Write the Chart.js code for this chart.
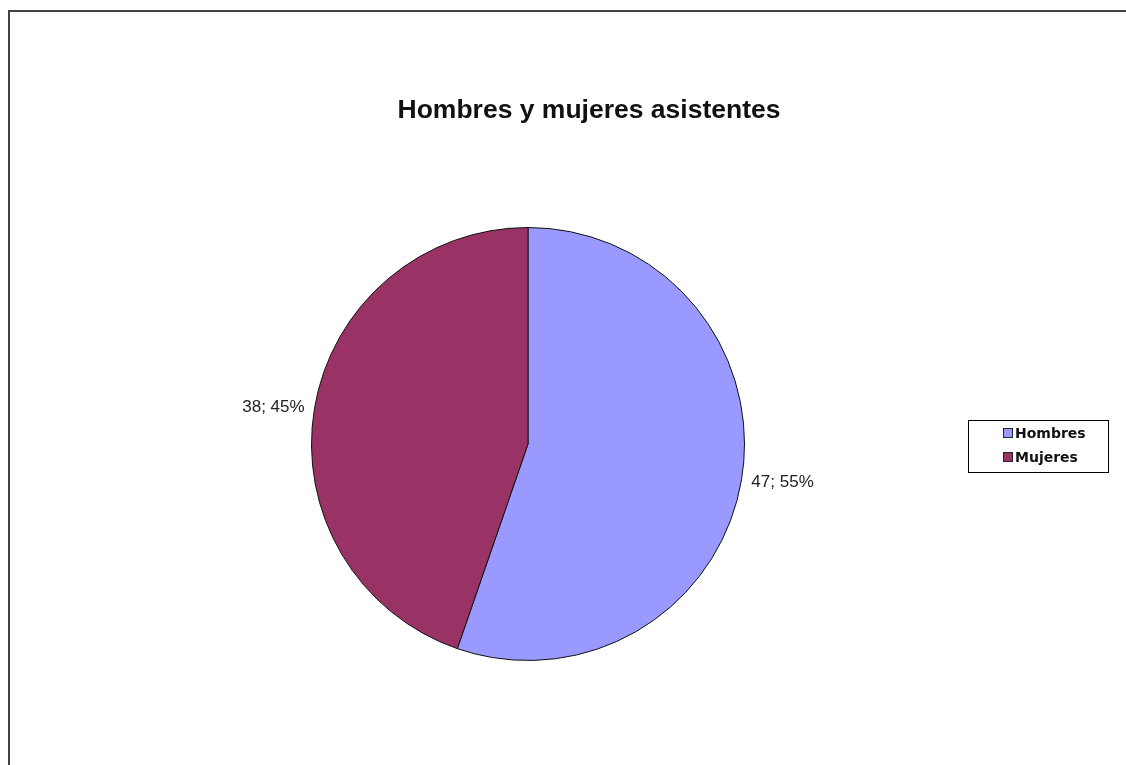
<!DOCTYPE html>
<html>
<head>
<meta charset="utf-8">
<script src="https://cdn.jsdelivr.net/npm/chart.js@4/dist/chart.umd.min.js"></script>
<style>
  html, body { margin: 0; padding: 0; background: #fff; overflow: hidden; }
  #wrap { position: relative; width: 1126px; height: 765px; }
  #frame {
    position: absolute; left: 8px; top: 10px;
    width: 1200px; height: 900px;
    border-left: 2px solid #444; border-top: 2px solid #444;
  }
  canvas { position: absolute; left: 0; top: 0; }
</style>
</head>
<body>
<div id="wrap">
  <div id="frame"></div>
  <canvas id="pie-chart" width="1126" height="765"></canvas>
</div>
<script>
const chartTitle = "Hombres y mujeres asistentes";
const categories = ["Hombres", "Mujeres"];
const values = [47, 38];
const sliceColors = ["#9999FF", "#993366"];

// labels like "47; 55%" outside each slice
const outsideLabels = {
  id: "outsideLabels",
  afterDatasetsDraw(chart) {
    const ctx = chart.ctx;
    const meta = chart.getDatasetMeta(0);
    const total = values.reduce((a, b) => a + b, 0);
    ctx.save();
    ctx.font = "17px 'Liberation Sans', Arial, sans-serif";
    ctx.fillStyle = "#222";
    ctx.textBaseline = "middle";
    meta.data.forEach((arc, i) => {
      const mid = (arc.startAngle + arc.endAngle) / 2;
      const r = arc.outerRadius + 10;
      const x = arc.x + Math.cos(mid) * r;
      const y = arc.y + Math.sin(mid) * r;
      ctx.textAlign = Math.cos(mid) >= 0 ? "left" : "right";
      const pct = Math.round(values[i] / total * 100);
      ctx.fillText(values[i] + "; " + pct + "%", x, y + 1);
    });
    ctx.restore();
  }
};

// title and boxed legend drawn like the original spreadsheet chart
const decorations = {
  id: "decorations",
  afterDraw(chart) {
    const ctx = chart.ctx;
    ctx.save();
    ctx.fillStyle = "#111";
    ctx.font = "bold 26.5px 'Liberation Sans', Arial, sans-serif";
    ctx.textAlign = "center";
    ctx.textBaseline = "middle";
    ctx.fillText(chartTitle, 589, 111);

    const bx = 968, by = 420, bw = 140, bh = 52;
    ctx.strokeStyle = "#000";
    ctx.lineWidth = 1;
    ctx.strokeRect(bx + 0.5, by + 0.5, bw, bh);

    ctx.font = "bold 14px 'DejaVu Sans', Verdana, sans-serif";
    ctx.textAlign = "left";
    categories.forEach((name, i) => {
      const cy = by + 13 + i * 24;
      ctx.fillStyle = sliceColors[i];
      ctx.fillRect(bx + 35, cy - 5, 10, 10);
      ctx.strokeStyle = "#222";
      ctx.strokeRect(bx + 35.5, cy - 4.5, 9, 9);
      ctx.fillStyle = "#111";
      ctx.fillText(name, bx + 47, cy + 1);
    });
    ctx.restore();
  }
};

new Chart(document.getElementById("pie-chart"), {
  type: "pie",
  data: {
    labels: categories,
    datasets: [{
      data: values,
      backgroundColor: sliceColors,
      borderColor: "#111",
      borderWidth: 1
    }]
  },
  options: {
    responsive: false,
    animation: false,
    layout: {
      padding: { left: 311, right: 381, top: 227, bottom: 104 }
    },
    plugins: {
      legend: { display: false },
      title: { display: false },
      tooltip: { enabled: false }
    }
  },
  plugins: [outsideLabels, decorations]
});
</script>
</body>
</html>
